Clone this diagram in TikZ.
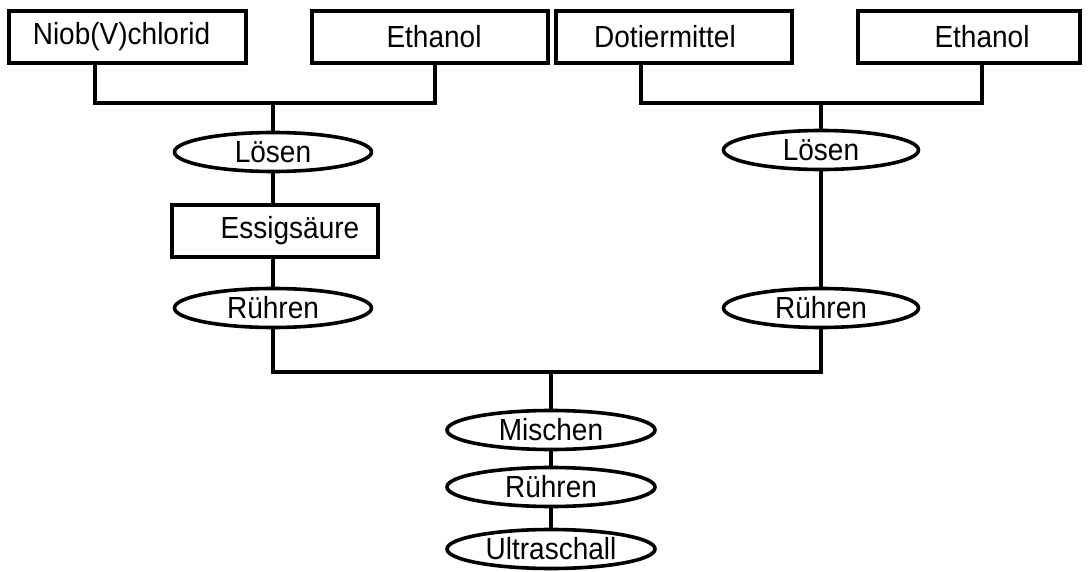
\documentclass[tikz,border=0pt]{standalone}
\usepackage{fontspec}
\setmainfont{Liberation Sans}
\usetikzlibrary{shapes.geometric}
% labels are set slightly taller than the plain font
\newcommand{\lbl}[1]{\scalebox{1}[1.09]{#1}}
\tikzset{
  stepbox/.style={draw, line width=4pt, rectangle, minimum height=52pt, inner sep=0pt, fill=white},
  work/.style={draw, line width=3.6pt, ellipse, minimum height=39pt, inner sep=0pt, fill=white},
  link/.style={line width=4pt}
}
\begin{document}
\begin{tikzpicture}[x=1pt, y=-1pt, font=\fontsize{28}{32}\selectfont]
\useasboundingbox (0,0) rectangle (1088,572);

% starting materials
\node[stepbox, minimum width=237pt] (niob) at (127.5,37) {\raisebox{4pt}{\kern-12pt\lbl{Niob(V)chlorid}}};
\node[stepbox, minimum width=236pt] (eth1) at (430,37) {\kern8pt\lbl{Ethanol}};
\node[stepbox, minimum width=236pt] (dot)  at (674,37) {\kern-18pt\lbl{Dotiermittel}};
\node[stepbox, minimum width=222pt] (eth2) at (969,37) {\kern26pt\lbl{Ethanol}};

% left branch
\node[work, minimum width=197pt] (loesL) at (273,152) {\lbl{Lösen}};
\node[stepbox, minimum width=206pt] (essig) at (275,231) {\kern30pt\lbl{Essigsäure}};
\node[work, minimum width=197pt] (ruehrL) at (273,308) {\lbl{Rühren}};

% right branch
\node[work, minimum width=195pt] (loesR) at (821,150) {\lbl{Lösen}};
\node[work, minimum width=195pt] (ruehrR) at (821,308) {\lbl{Rühren}};

% common route
\node[work, minimum width=208pt] (misch) at (551,430) {\lbl{Mischen}};
\node[work, minimum width=208pt] (ruehr) at (551,487) {\lbl{Rühren}};
\node[work, minimum width=208pt] (ultra) at (551,549) {\lbl{Ultraschall}};

% junction points
\coordinate (jL) at (273,103);
\coordinate (jR) at (821,103);
\coordinate (jM) at (551,372);

% connectors
\draw[link] ([xshift=-32.5pt]niob.south) |- (jL) -| ([xshift=5pt]eth1.south);
\draw[link] (jL) -- (loesL.north);
\draw[link] (loesL.south) -- (loesL.south |- essig.north);
\draw[link] (ruehrL.north |- essig.south) -- (ruehrL.north);

\draw[link] ([xshift=-33pt]dot.south) |- (jR) -| ([xshift=13pt]eth2.south);
\draw[link] (jR) -- (loesR.north);
\draw[link] (loesR.south) -- (ruehrR.north);

\draw[link] (ruehrL.south) |- (jM) -| (ruehrR.south);
\draw[link] (jM) -- (misch.north);
\draw[link] (misch.south) -- (ruehr.north);
\draw[link] (ruehr.south) -- (ultra.north);
\end{tikzpicture}
\end{document}
